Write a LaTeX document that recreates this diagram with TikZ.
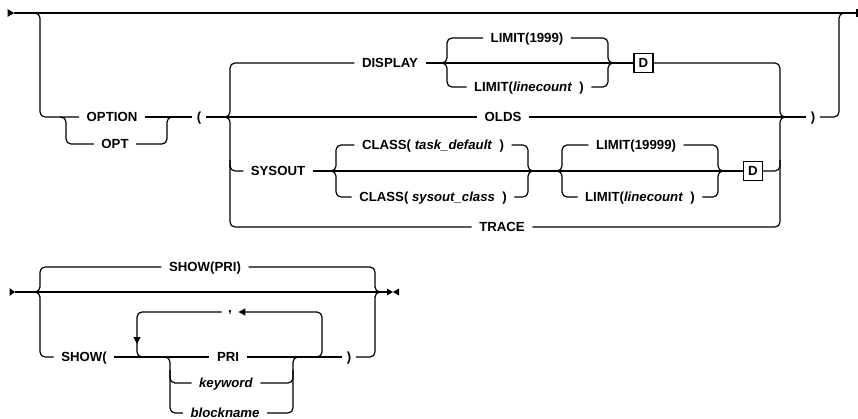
\documentclass[tikz,border=0pt]{standalone}
\usepackage{fontspec}
\setmainfont{Liberation Sans}
\usetikzlibrary{arrows.meta}
\begin{document}
\begin{tikzpicture}[x=1pt,y=-1pt,
  line width=1.2pt,
  kw/.style={font=\fontsize{13.2}{15}\selectfont\bfseries, inner xsep=7pt, inner ysep=1pt, text height=9.5pt, text depth=0pt},
  parnode/.style={kw, inner xsep=4pt},
  commanode/.style={font=\fontsize{13.2}{15}\selectfont\bfseries, inner xsep=6pt, inner ysep=0pt, text height=0pt, text depth=0pt},
  rc/.style={rounded corners=5pt},
  dbox/.style={draw, line width=1.2pt, minimum size=19pt, inner sep=0pt, font=\fontsize{13.2}{15}\selectfont\bfseries},
  reparrow/.style={-{Triangle[length=7pt,width=7pt]}},
]
\useasboundingbox (0,0) rectangle (858,419);

% ---------- top diagram: nodes ----------
\node[kw] (option) at (112,117) {OPTION};
\node[kw] (opt) at (115,144) {OPT};
\node[parnode] (lpar) at (199,117) {(};
\node[kw] (display) at (390,63) {DISPLAY};
\node[kw] (lim1999) at (527,38) {LIMIT(1999)};
\node[kw] (limlc1) at (529,87) {LIMIT(\textit{linecount}\ \ )};
\node[dbox] (d1) at (643.5,63) {D};
\node[kw] (olds) at (503,117) {OLDS};
\node[kw] (sysout) at (278,171) {SYSOUT};
\node[kw] (cltd) at (433,145) {CLASS(\ \textit{task\_default}\ \ )};
\node[kw] (clsc) at (433,197) {CLASS(\ \textit{sysout\_class}\ \ )};
\node[kw] (lim19999) at (636,145) {LIMIT(19999)};
\node[kw] (limlc2) at (640,197) {LIMIT(\textit{linecount}\ \ )};
\node[dbox] (d2) at (753,171) {D};
\node[kw] (trace) at (502,227) {TRACE};
\node[parnode] (rpar) at (813,117) {)};

\coordinate (s1) at (14,13);
\coordinate (e1) at (857,13);
\fill (7.5,9) -- (s1) -- (7.5,17) -- cycle;
\draw (s1) -- (e1);
\draw (857,9) -- (857,17);

\draw[rc] (34,13) -| (40,117) -- (option.west);
\draw (option.east) -- (lpar.west);
\draw[rc] (60,117) -| (66,144) -- (opt.west);
\draw[rc] (opt.east) -| (167,117) -- (173,117);
\draw (lpar.east) -- (olds.west);
\draw (olds.east) -- (rpar.west);
\draw[rc] (rpar.east) -| (839,13) -- (845,13);

% big choice
\draw[rc] (224,117) -| (230,63) -- (display.west);
\draw[rc] (224,117) -| (230,227) -- (trace.west);
\draw[rc] (230,160) |- (sysout.west);
\draw[rc] (d1.east) -| (780,117) -- (786,117);
\draw[rc] (trace.east) -| (780,117) -- (786,117);
\draw[rc] (d2.east) -| (780,160);

% DISPLAY row
\draw (display.east) -- (d1.west);
\draw[rc] (441,63) -| (447,38) -- (lim1999.west);
\draw[rc] (lim1999.east) -| (608,63) -- (614,63);
\draw[rc] (441,63) -| (447,87) -- (limlc1.west);
\draw[rc] (limlc1.east) -| (608,63) -- (614,63);

% SYSOUT row
\draw (sysout.east) -- (d2.west);
\draw[rc] (330,171) -| (336,145) -- (cltd.west);
\draw[rc] (cltd.east) -| (528,171) -- (534,171);
\draw[rc] (330,171) -| (336,197) -- (clsc.west);
\draw[rc] (clsc.east) -| (528,171) -- (534,171);
\draw[rc] (556,171) -| (562,145) -- (lim19999.west);
\draw[rc] (lim19999.east) -| (718,171) -- (724,171);
\draw[rc] (556,171) -| (562,197) -- (limlc2.west);
\draw[rc] (limlc2.east) -| (718,171) -- (724,171);

% ---------- bottom diagram ----------
\node[kw] (showpri) at (205,267) {SHOW(PRI)};
\node[kw] (show) at (84,357) {SHOW(};
\node[kw] (pri) at (228,357) {PRI};
\node[kw] (keyword) at (226,383) {\textit{keyword}};
\node[kw] (blockname) at (225,413) {\textit{blockname}};
\node[commanode] (comma) at (230,312) {,};
\node[parnode] (rpar2) at (349,357) {)};

\coordinate (s2) at (15,292);
\coordinate (e2) at (387,292);
\fill (9.5,288) -- (s2) -- (9.5,296) -- cycle;
\draw (s2) -- (e2);
\fill (387,288.5) -- (393,292) -- (387,295.5) -- cycle;
\fill (399,288.5) -- (393,292) -- (399,295.5) -- cycle;

\draw[rc] (34,292) -| (40,267) -- (showpri.west);
\draw[rc] (showpri.east) -| (375,292) -- (381,292);
\draw[rc] (34,292) -| (40,357) -- (show.west);
\draw[rc] (rpar2.east) -| (375,292) -- (381,292);
\draw (show.east) -- (pri.west);
\draw (pri.east) -- (rpar2.west);
\draw[rc] (164,357) -| (170,413) -- (blockname.west);
\draw[rc] (170,370) |- (keyword.west);
\draw[rc] (blockname.east) -| (293,357) -- (299,357);
\draw[rc] (keyword.east) -| (293,370);
\draw[rc,reparrow] (316,357) -| (322,312) -- (comma.east);
\draw[rc,reparrow] (comma.west) -| (137,344);
\draw[rc] (137,338) |- (143,357);
\end{tikzpicture}
\end{document}
